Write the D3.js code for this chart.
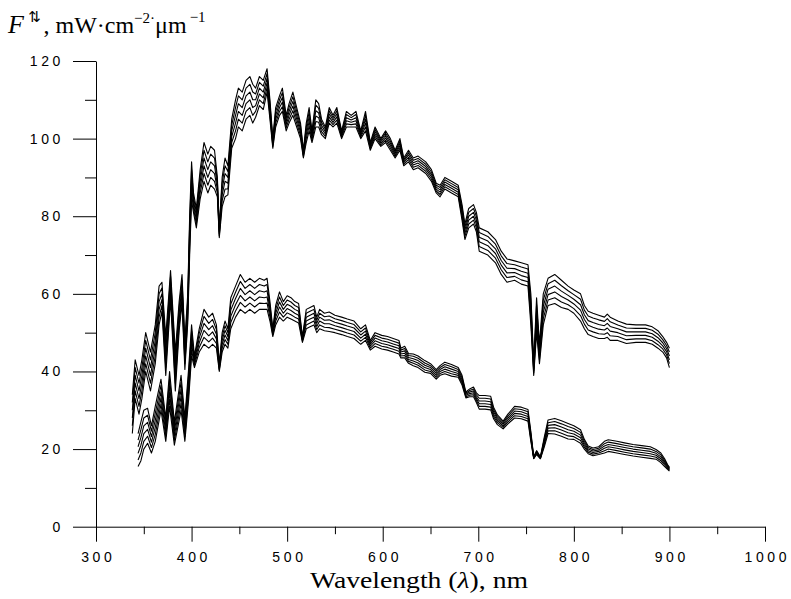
<!DOCTYPE html>
<html><head><meta charset="utf-8">
<script src="https://cdn.jsdelivr.net/npm/d3@7"></script>
<style>body{margin:0;background:#fff}svg{display:block}</style>
</head><body>
<svg id="c" width="791" height="599"></svg>
<script>
// x ticks / y ticks
const xMajor = [300,400,500,600,700,800,900,1000];
const xMinor = [350,450,550,650,750,850,950];
const yMajor = [0,20,40,60,80,100,120];
const yMinor = [10,30,50,70,90,110];

// Upper family (downward flux), wavelengths in nm
const wlUp = [338,341,345,348,352,357,362,366,369,373,378,383,387,390,393,396,398,400,402,405,409,413,417,420,424,427,429,432,435,438,442,446,449,453,457,461,464,467,471,475,479,482,485,488,492,495,499,502,506,510,514,517,520,523,526,530,533,536,540,544,548,552,557,562,567,572,577,582,587,592,598,603,608,613,618,622,627,632,637,645,651,656,660,665,672,679,683,686,690,695,698,701,710,718,724,730,738,745,752,755,758,761,764,768,773,780,787,794,800,807,811,815,820,826,832,835,838,846,855,865,875,882,888,893,897,900];
const up1 = [34,43,39,43,50,45,52,62,63,49,66,45,58,65,48,60,80,94,86,82,92,99,96,98,97,90,77,90,95,93,105,110,113,112,115,116,114,113,116,115,118,110,100,108,111,113,106,109,112,108,104,97,104,108,102,110,109,105,103,108,106,108,102,107,106,107,102,107,99,103,100,102,100,97,100,95,97,95,95.5,94,92,88.5,88,90,89,88,83,78,82,83,81,77,76,74,71,69,68.5,68,67.5,60,42,59,47,60,64,65,63.5,62,61,60,57,55.5,55,54.5,54,54.8,54,53,52.2,52,52,51.5,50.5,49,47.5,46];
const up2 = [32,41,37,41,48,43,50,60,61.5,47,64.5,43,56.5,63.5,46.5,58.5,78,92,85,81,90.5,97,94,96,95,89,76.5,88.5,93,91.5,103.5,108,111,110,113,114,112,111.5,114.5,113.5,116.8,109,99.5,107,110,111.8,105.2,108,110.8,107,103.2,96.6,103,106.8,101.4,108.6,107.8,104.2,102.4,107.2,105.4,107.2,101.6,106.2,105.4,106.2,101.6,106,98.6,102.4,99.6,101.4,99.4,96.6,99.4,94.6,96.4,94.4,94.9,93.4,91.4,88,87.4,89.4,88.4,87.4,82.2,77.2,81,82,80,75.8,74.8,72.8,69.8,67.8,67.5,66.9,66.4,58.4,41.4,57.2,46,58.4,62.6,63.5,62.1,60.8,59.8,58.6,55.8,54.3,53.8,53.3,52.9,53.6,52.8,52,51.2,51.1,51.1,50.6,49.6,48.2,46.7,45];
const up3 = [30,39,35,39,46,41,48,58,60,45,63,41,55,62,45,57,76,90,84,80,89,95,92,94,93,88,76,87,91,90,102,106,109,108,111,112,110,110,113,112,115.6,108,99,106,109,110.6,104.4,107,109.6,106,102.4,96.2,102,105.6,100.8,107.2,106.6,103.4,101.8,106.4,104.8,106.4,101.2,105.4,104.8,105.4,101.2,105,98.2,101.8,99.2,100.8,98.8,96.2,98.8,94.2,95.8,93.8,94.3,92.8,90.8,87.5,86.8,88.8,87.8,86.8,81.4,76.4,80,81,79,74.6,73.6,71.6,68.6,66.6,66.5,65.8,65.3,56.8,40.8,55.4,45,56.8,61.2,62,60.7,59.6,58.6,57.2,54.6,53.1,52.6,52.1,51.8,52.4,51.6,51,50.2,50.2,50.2,49.7,48.7,47.4,45.9,44];
const up4 = [28,37,33,37,44,39,46,56,58.5,43,61.5,39,53.5,60.5,43.5,55.5,74,88,83,79,87.5,93,90,92,91,87,75.5,85.5,89,88.5,100.5,104,107,106,109,110,108,108.5,111.5,110.5,114.4,107,98.5,105,108,109.4,103.6,106,108.4,105,101.6,95.8,101,104.4,100.2,105.8,105.4,102.6,101.2,105.6,104.2,105.6,100.8,104.6,104.2,104.6,100.8,104,97.8,101.2,98.8,100.2,98.2,95.8,98.2,93.8,95.2,93.2,93.7,92.2,90.2,87,86.2,88.2,87.2,86.2,80.6,75.6,79,80,78,73.4,72.4,70.4,67.4,65.4,65.5,64.7,64.2,55.2,40.2,53.6,44,55.2,59.8,60.5,59.3,58.4,57.4,55.8,53.4,51.9,51.4,50.9,50.7,51.2,50.4,50,49.2,49.3,49.3,48.8,47.8,46.6,45.1,43];
const up5 = [26,35,31,35,42,37,44,54,57,41,60,37,52,59,42,54,72,86,82,78,86,91,88,90,89,86,75,84,87,87,99,102,105,104,107,108,106,107,110,109,113.2,106,98,104,107,108.2,102.8,105,107.2,104,100.8,95.4,100,103.2,99.6,104.4,104.2,101.8,100.6,104.8,103.6,104.8,100.4,103.8,103.6,103.8,100.4,103,97.4,100.6,98.4,99.6,97.6,95.4,97.6,93.4,94.6,92.6,93.1,91.6,89.6,86.5,85.6,87.6,86.6,85.6,79.8,74.8,78,79,77,72.2,71.2,69.2,66.2,64.2,64.5,63.6,63.1,53.6,39.6,51.8,43,53.6,58.4,59,57.9,57.2,56.2,54.4,52.2,50.7,50.2,49.7,49.6,50,49.2,49,48.2,48.4,48.4,47.9,46.9,45.8,44.3,42];
const up6 = [24,33,29,33,40,35,42,52,55.5,39,58.5,35,50.5,57.5,40.5,52.5,70,84,81,77,84.5,89,86,88,87,85,74.5,82.5,85,85.5,97.5,100,103,102,105,106,104,105.5,108.5,107.5,112,105,97.5,103,106,107,102,104,106,103,100,95,99,102,99,103,103,101,100,104,103,104,100,103,103,103,100,102,97,100,98,99,97,95,97,93,94,92,92.5,91,89,86,85,87,86,85,79,74,77,78,76,71,70,68,65,63,63.5,62.5,62,52,39,50,42,52,57,57.5,56.5,56,55,53,51,49.5,49,48.5,48.5,48.8,48,48,47.2,47.5,47.5,47,46,45,43.5,41];

// Lower family (upward flux)
const wlDn = [344,347,350,354,358,362,368,373,377,382,389,393,397,400,403,408,413,418,422,426,429,432,435,438,441,446,451,456,461,466,471,476,479,482,485,488,492,496,500,504,508,512,516,520,524,528,531,534,539,544,550,557,563,570,577,582,587,592,599,605,611,617,619,623,627,632,637,644,650,656,660,665,672,679,683,687,691,695,698,701,707,713,716,720,726,731,738,745,752,755,758,761,765,769,773,780,787,794,800,807,811,815,820,826,832,836,845,853,862,871,880,886,891,895,898,900];
const dn1 = [24,27,30,30.5,26,31,38,28,40,27,39,28,41,52,44,51,56,54,55,52,42,50,53,51,59,62,65,63,64,63,64,63.5,64,58,51,57,60.5,58,59.5,59,58,57.5,49,56,56.5,57,54,56,55,55.3,54.5,54,53.5,53,51,52,48,50,49.3,49,48.5,48,46,46.5,44.6,44.5,44,42.8,42,40.5,41.5,42.4,41.8,41,39,34.7,35.5,36,34.5,33.8,33.8,33.6,30.8,28.8,27.2,29,31,30.8,30.2,24.5,18,19.6,18,23,27.5,27.9,27.3,26.6,26,25,22.5,20.8,20.3,20.6,22,22.4,22,21.6,21.2,20.9,20.6,19.9,19,17.5,16,15.3];
const dn2 = [22.3,25,28,28.7,24.6,29.2,36.4,26.8,38.2,25.8,37.2,26.8,39.4,50.4,43.4,49.8,54.2,52.4,53.4,50.8,41.6,49,51.8,50,57.4,60.4,63.2,61.4,62.4,61.4,62.4,62,62.4,57,50.6,56,59.2,57,58.4,57.9,57,56.5,48.7,55,55.5,56,53.2,55,54.1,54.3,53.6,53.1,52.6,52.1,50.2,51.2,47.5,49.3,48.6,48.3,47.8,47.3,45.5,45.9,44.1,43.9,43.4,42.2,41.5,40,41,41.8,41.2,40.5,38.5,34.4,35.1,35.5,34,33.1,33.1,32.9,30.2,28.3,26.8,28.5,30.4,30.2,29.6,24,17.9,19.4,17.9,22.5,26.8,27.1,26.5,25.8,25.3,24.3,22,20.4,19.9,20.2,21.4,21.8,21.4,21,20.6,20.3,20,19.4,18.5,17.1,15.75,15.1];
const dn3 = [20.6,23,26,26.9,23.2,27.4,34.8,25.6,36.4,24.6,35.4,25.6,37.8,48.8,42.8,48.6,52.4,50.8,51.8,49.6,41.2,48,50.6,49,55.8,58.8,61.4,59.8,60.8,59.8,60.8,60.5,60.8,56,50.2,55,57.9,56,57.3,56.8,56,55.5,48.4,54,54.5,55,52.4,54,53.2,53.3,52.7,52.2,51.7,51.2,49.4,50.4,47,48.6,47.9,47.6,47.1,46.6,45,45.3,43.6,43.3,42.8,41.6,41,39.5,40.5,41.2,40.6,40,38,34.1,34.7,35,33.5,32.4,32.4,32.2,29.6,27.8,26.4,28,29.8,29.6,29,23.5,17.8,19.2,17.8,22,26.1,26.3,25.7,25,24.6,23.6,21.5,20,19.5,19.8,20.8,21.2,20.8,20.4,20,19.7,19.4,18.9,18,16.7,15.5,14.9];
const dn4 = [18.9,21,24,25.1,21.8,25.6,33.2,24.4,34.6,23.4,33.6,24.4,36.2,47.2,42.2,47.4,50.6,49.2,50.2,48.4,40.8,47,49.4,48,54.2,57.2,59.6,58.2,59.2,58.2,59.2,59,59.2,55,49.8,54,56.6,55,56.2,55.7,55,54.5,48.1,53,53.5,54,51.6,53,52.3,52.3,51.8,51.3,50.8,50.3,48.6,49.6,46.5,47.9,47.2,46.9,46.4,45.9,44.5,44.7,43.1,42.7,42.2,41,40.5,39,40,40.6,40,39.5,37.5,33.8,34.3,34.5,33,31.7,31.7,31.5,29,27.3,26,27.5,29.2,29,28.4,23,17.7,19,17.7,21.5,25.4,25.5,24.9,24.2,23.9,22.9,21,19.6,19.1,19.4,20.2,20.6,20.2,19.8,19.4,19.1,18.8,18.4,17.5,16.3,15.25,14.7];
const dn5 = [17.2,19,22,23.3,20.4,23.8,31.6,23.2,32.8,22.2,31.8,23.2,34.6,45.6,41.6,46.2,48.8,47.6,48.6,47.2,40.4,46,48.2,47,52.6,55.6,57.8,56.6,57.6,56.6,57.6,57.5,57.6,54,49.4,53,55.3,54,55.1,54.6,54,53.5,47.8,52,52.5,53,50.8,52,51.4,51.3,50.9,50.4,49.9,49.4,47.8,48.8,46,47.2,46.5,46.2,45.7,45.2,44,44.1,42.6,42.1,41.6,40.4,40,38.5,39.5,40,39.4,39,37,33.5,33.9,34,32.5,31,31,30.8,28.4,26.8,25.6,27,28.6,28.4,27.8,22.5,17.6,18.8,17.6,21,24.7,24.7,24.1,23.4,23.2,22.2,20.5,19.2,18.7,19,19.6,20,19.6,19.2,18.8,18.5,18.2,17.9,17,15.9,15,14.5];
const dn6 = [15.5,17,20,21.5,19,22,30,22,31,21,30,22,33,44,41,45,47,46,47,46,40,45,47,46,51,54,56,55,56,55,56,56,56,53,49,52,54,53,54,53.5,53,52.5,47.5,51,51.5,52,50,51,50.5,50.3,50,49.5,49,48.5,47,48,45.5,46.5,45.8,45.5,45,44.5,43.5,43.5,42.1,41.5,41,39.8,39.5,38,39,39.4,38.8,38.5,36.5,33.2,33.5,33.5,32,30.3,30.3,30.1,27.8,26.3,25.2,26.5,28,27.8,27.2,22,17.5,18.6,17.5,20.5,24,23.9,23.3,22.6,22.5,21.5,20,18.8,18.3,18.6,19,19.4,19,18.6,18.2,17.9,17.6,17.4,16.5,15.5,14.75,14.3];

const svg = d3.select('#c');
const x = d3.scaleLinear().domain([300,1000]).range([96,765]);
const y = d3.scaleLinear().domain([0,120]).range([526.7,61]);

const series = [];
[up1,up2,up3,up4,up5,up6].forEach(v => series.push(wlUp.map((w,i)=>[w,v[i]])));
[dn1,dn2,dn3,dn4,dn5,dn6].forEach(v => series.push(wlDn.map((w,i)=>[w,v[i]])));

const line = d3.line().x(d=>x(d[0])).y(d=>y(d[1]));
svg.append('g').selectAll('path').data(series).join('path')
  .attr('d', line).attr('fill','none').attr('stroke','#000')
  .attr('stroke-width',1.1).attr('stroke-linejoin','round');

const tickFont = g => g.selectAll('text')
  .attr('font-family','Liberation Sans, Arial, sans-serif')
  .attr('font-size',14).attr('fill','#000')
  .style('letter-spacing','3.6px');

// x axis
const gx = svg.append('g').attr('transform',`translate(0,${y(0)})`);
gx.call(d3.axisBottom(x).tickValues(xMajor).tickSize(15).tickSizeOuter(0).tickPadding(10).tickFormat(d3.format('d')));
gx.call(tickFont);
gx.selectAll('text').attr('dx', 1.8);
const gxm = svg.append('g').attr('transform',`translate(0,${y(0)})`);
gxm.call(d3.axisBottom(x).tickValues(xMinor).tickSize(7.5).tickSizeOuter(0).tickFormat(''));
gxm.select('.domain').remove();

// y axis
const gy = svg.append('g').attr('transform',`translate(${x(300)},0)`);
gy.call(d3.axisLeft(y).tickValues(yMajor).tickSize(23).tickSizeOuter(0).tickPadding(9).tickFormat(d3.format('d')));
gy.call(tickFont);
const gym = svg.append('g').attr('transform',`translate(${x(300)},0)`);
gym.call(d3.axisLeft(y).tickValues(yMinor).tickSize(11).tickSizeOuter(0).tickFormat(''));
gym.select('.domain').remove();
svg.selectAll('.domain, .tick line').attr('stroke','#000').attr('stroke-width',1);

// axis titles
svg.append('text').attr('x',310).attr('y',588)
  .attr('font-family','Liberation Serif, Times New Roman, serif').attr('font-size',24)
  .attr('textLength',218).attr('lengthAdjust','spacingAndGlyphs')
  .html('Wavelength (<tspan font-style="italic">λ</tspan>), nm');

const yt = svg.append('text').attr('x',8).attr('y',33).attr('fill','#000')
  .attr('font-family','Liberation Serif, Times New Roman, serif').attr('font-size',24);
yt.append('tspan').attr('font-style','italic').attr('font-size',26).text('F');
yt.append('tspan').attr('dx',4).attr('dy',-11).attr('font-size',15)
  .attr('font-family','DejaVu Sans, sans-serif').attr('fill','#000')
  .text('\u21C5');
yt.append('tspan').attr('dx',3).attr('dy',11).text(', mW·cm');
yt.append('tspan').attr('dy',-10).attr('font-size',15).text('−2·');
yt.append('tspan').attr('dy',10).text('μm');
yt.append('tspan').attr('dx',3).attr('dy',-11).attr('font-size',15).text('−1');
</script>
</body></html>
